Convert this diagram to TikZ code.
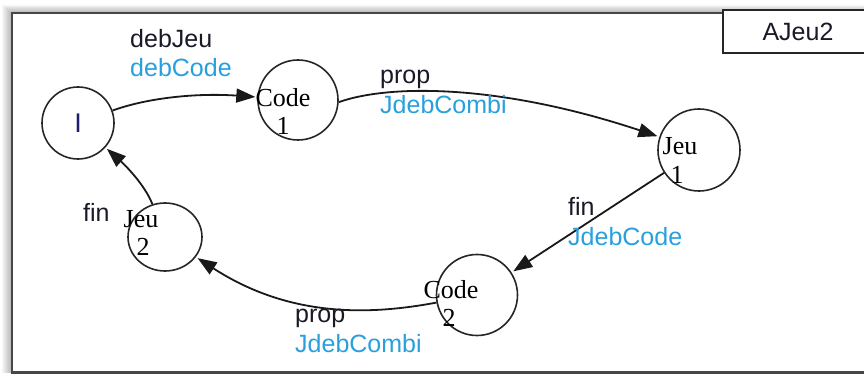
\documentclass[tikz,border=0pt]{standalone}
\usepackage{fontspec}
\setmainfont{Liberation Serif}
\setsansfont{Liberation Sans}
\usetikzlibrary{arrows.meta,shapes.geometric}
\definecolor{lblue}{RGB}{41,160,220}
\definecolor{lblack}{RGB}{25,25,40}
\definecolor{navy}{RGB}{30,30,110}
\definecolor{framecol}{RGB}{70,70,70}
\begin{document}
\begin{tikzpicture}[x=1pt,y=-1pt,
  state/.style={circle,draw=black!85,line width=1.6pt,inner sep=0pt},
  stxt/.style={font=\fontsize{26}{28}\selectfont\rmfamily,anchor=base,inner sep=0pt,text=black},
  lbl/.style={font=\fontsize{25}{30}\selectfont\sffamily,anchor=base west,inner sep=0pt,text=lblack},
  lblb/.style={lbl,text=lblue},
  arr/.style={line width=1.8pt,draw=black!90,shorten >=2pt,-{Triangle[length=19pt,width=14pt]}}]
\useasboundingbox (0,0) rectangle (864,374);
% shadow
\foreach \k in {1,...,10}
  \fill[black,opacity=0.03] (12-\k,13-0.8*\k) rectangle (880,372.5);
\fill[white] (12,13) rectangle (880,372.5);
\draw[framecol,line width=2.6pt] (12,13) rectangle (880,372.5);
% title box
\node[draw=black!85,line width=1.5pt,fill=white,minimum width=150pt,minimum height=43pt,inner sep=0pt,
      font=\fontsize{25}{30}\selectfont\sffamily,text=lblack] (title) at (798,31.5) {AJeu2};
% states
\node[state,minimum size=72pt] (i) at (78,123) {};
\node[font=\fontsize{27}{30}\selectfont\sffamily,text=navy,inner sep=0pt] (itxt) at (78,123) {I};
\node[state,minimum size=80pt] (c1) at (298,100) {};
\node[state,minimum size=82pt] (j1) at (699,150) {};
\node[ellipse,draw=black!85,line width=1.6pt,inner sep=0pt,minimum width=74pt,minimum height=68pt] (j2) at (165,237) {};
\node[state,minimum size=81pt] (c2) at (477,295) {};
% state texts
\node[stxt] (c1a) at (283,107) {Code};
\node[stxt] (c1b) at (283,135) {1};
\node[stxt] (j1a) at (680,155) {Jeu};
\node[stxt] (j1b) at (677,183) {1};
\node[stxt] (j2a) at (141,227) {Jeu};
\node[stxt] (j2b) at (143,255) {2};
\node[stxt] (c2a) at (451,298) {Code};
\node[stxt] (c2b) at (449,326) {2};
% edges
\draw[arr] (i) .. controls (150,97) and (200,93) .. (c1);
\draw[arr] (c1.-3) .. controls (390,84) and (500,84) .. (j1);
\draw[arr] (j1) -- (c2);
\draw[arr] (c2) .. controls (370,315) and (290,318) .. (j2);
\draw[arr] (j2) .. controls (145,185) and (125,165) .. (i);
% labels
\node[lbl] (l1a) at (130,48) {debJeu};
\node[lblb] (l1b) at (130,77) {debCode};
\node[lbl] (l2a) at (380,84) {prop};
\node[lblb] (l2b) at (380,114) {JdebCombi};
\node[lbl] (l3a) at (568,215) {fin};
\node[lblb] (l3b) at (568,245) {JdebCode};
\node[lbl] (l4a) at (295,322) {prop};
\node[lblb] (l4b) at (295,352) {JdebCombi};
\node[lbl] (l5a) at (83,222) {fin};
\end{tikzpicture}
\end{document}
